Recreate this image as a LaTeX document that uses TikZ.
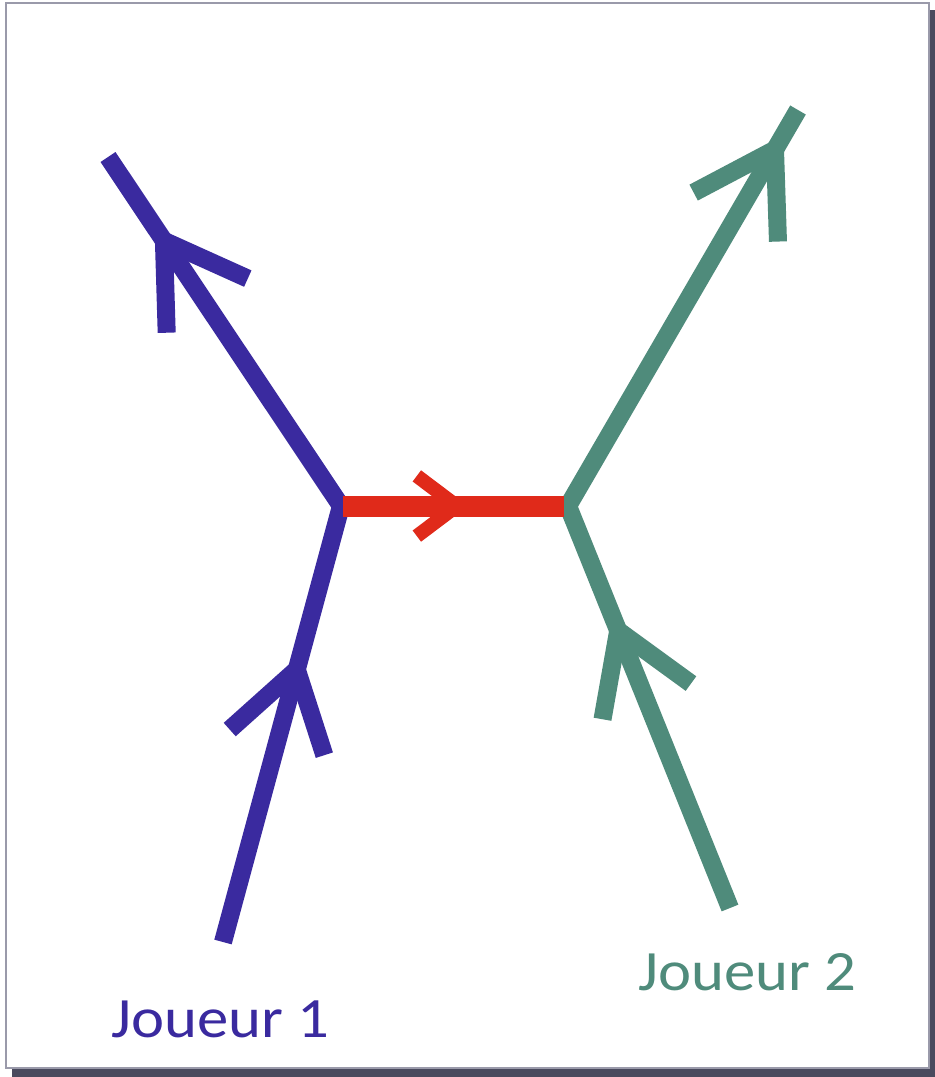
\documentclass[tikz,border=0pt]{standalone}
\usepackage{fontspec}
\setmainfont{Carlito}
\usetikzlibrary{calc}
\definecolor{pblue}{HTML}{3A2A9F}
\definecolor{pgreen}{HTML}{4F8B7B}
\definecolor{pred}{HTML}{E02A1A}
\definecolor{shadowc}{HTML}{4A4A5E}
\definecolor{framec}{HTML}{9A9AAA}
\tikzset{
  p1line/.style={draw=pblue, line width=18pt, line join=miter, line cap=butt},
  p2line/.style={draw=pgreen, line width=18pt, line join=miter, line cap=butt},
  exline/.style={draw=pred, line width=21pt, line cap=butt},
  exhead/.style={draw=pred, line width=14pt, line join=miter, line cap=butt},
  label/.style={font=\fontsize{57}{62}\selectfont, anchor=base west, inner sep=0pt}
}
\begin{document}
\begin{tikzpicture}[x=1pt,y=-1pt]
\useasboundingbox (0,0) rectangle (935,1077);
\fill[shadowc] (12,10) rectangle (935,1077);
\draw[framec, fill=white, line width=1.5pt] (6,3) rectangle (929,1068);

% junctions and ends
\coordinate (J1) at (341,506);
\coordinate (J2) at (568,506);
\coordinate (TL) at (108,157);
\coordinate (BL) at (223,942);
\coordinate (TR) at (798,110);
\coordinate (BR) at (730,908);

% arrow apexes
\coordinate (A1) at ($(TL)!0.24!(J1)$);
\coordinate (A2) at ($(BL)!0.625!(J1)$);
\coordinate (A3) at ($(J1)!0.51!(J2)$);
\coordinate (A4) at ($(TR)!0.1!(J2)$);
\coordinate (A5) at ($(BR)!0.69!(J2)$);

% player 1
\draw[p1line] (BL) -- (J1) -- (TL);
\draw[p1line] ($(A1)!92pt!32:(J1)$) -- (A1) -- ($(A1)!92pt!-32:(J1)$);
\draw[p1line] ($(A2)!90pt!33:(BL)$) -- (A2) -- ($(A2)!90pt!-33:(BL)$);

% player 2
\draw[p2line] (BR) -- (J2) -- (TR);
\draw[p2line] ($(A4)!92pt!32:(J2)$) -- (A4) -- ($(A4)!92pt!-32:(J2)$);
\draw[p2line] ($(A5)!90pt!32:(BR)$) -- (A5) -- ($(A5)!90pt!-32:(BR)$);

% exchange
\draw[exline] ($(J1)+(2,0)$) -- ($(J2)+(-4,0)$);
\draw[exhead] ($(A3)!50pt!37:(J1)$) -- (A3) -- ($(A3)!50pt!-37:(J1)$);

% labels
\node[label, text=pblue] (L1) at (111,1037) {\scalebox{1.1}[1]{Joueur 1}};
\node[label, text=pgreen] (L2) at (638,990) {\scalebox{1.1}[1]{Joueur 2}};
\end{tikzpicture}
\end{document}
